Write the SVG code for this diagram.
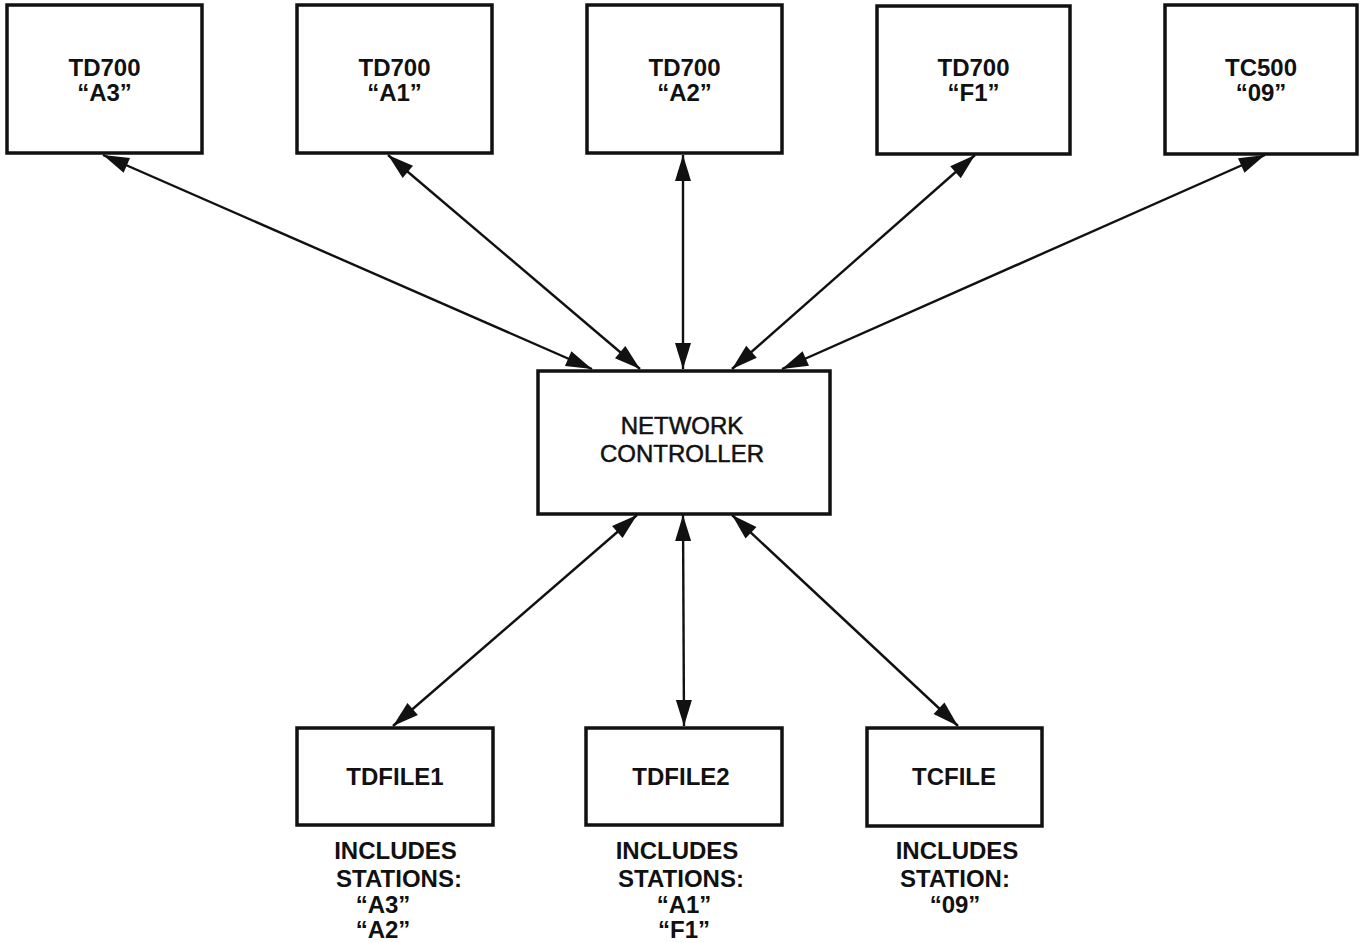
<svg xmlns="http://www.w3.org/2000/svg" width="1361" height="943" viewBox="0 0 1361 943">
  <defs>
    <style>
      .box { fill: #ffffff; stroke: #111111; stroke-width: 3.5; }
      .link { stroke: #111111; stroke-width: 2.4; fill: none; marker-start: url(#head); marker-end: url(#head); }
      .lbl { font-family: "Liberation Sans", Arial, Helvetica, sans-serif; font-size: 24px; font-weight: bold; fill: #111111; text-anchor: middle; }
      .ctl { font-family: "Liberation Sans", Arial, Helvetica, sans-serif; font-size: 24px; fill: #111111; stroke: #111111; stroke-width: 0.5; text-anchor: middle; }
      .note { font-family: "Liberation Sans", Arial, Helvetica, sans-serif; font-size: 24px; font-weight: bold; fill: #111111; text-anchor: middle; }
    </style>
    <marker id="head" viewBox="-27 -9 28 18" refX="0" refY="0" markerWidth="28" markerHeight="18" markerUnits="userSpaceOnUse" orient="auto-start-reverse">
      <path d="M0,0 L-26,-8 L-26,8 Z" fill="#111111"/>
    </marker>
  </defs>
  <rect width="1361" height="943" fill="#ffffff"/>

  <!-- bidirectional links to the controller -->
  <g id="connectors">
    <line class="link" x1="103" y1="155" x2="592" y2="369"/>
    <line class="link" x1="388" y1="155" x2="640" y2="369"/>
    <line class="link" x1="683" y1="155" x2="683" y2="369"/>
    <line class="link" x1="975" y1="155" x2="732" y2="369"/>
    <line class="link" x1="1265" y1="155" x2="782" y2="369"/>
    <line class="link" x1="637" y1="515" x2="393" y2="726"/>
    <line class="link" x1="683" y1="515" x2="684" y2="726"/>
    <line class="link" x1="732" y1="515" x2="958" y2="726"/>
  </g>

  <!-- terminals -->
  <g id="td700-a3">
    <rect class="box" x="7" y="5" width="195" height="148"/>
    <text class="lbl" x="104.5" y="76">TD700</text>
    <text class="lbl" x="104.5" y="101">“A3”</text>
  </g>
  <g id="td700-a1">
    <rect class="box" x="297" y="5" width="195" height="148"/>
    <text class="lbl" x="394.5" y="76">TD700</text>
    <text class="lbl" x="394.5" y="101">“A1”</text>
  </g>
  <g id="td700-a2">
    <rect class="box" x="587" y="5" width="195" height="148"/>
    <text class="lbl" x="684.5" y="76">TD700</text>
    <text class="lbl" x="684.5" y="101">“A2”</text>
  </g>
  <g id="td700-f1">
    <rect class="box" x="877" y="6" width="193" height="148"/>
    <text class="lbl" x="973.5" y="76">TD700</text>
    <text class="lbl" x="973.5" y="101">“F1”</text>
  </g>
  <g id="tc500-09">
    <rect class="box" x="1165" y="5" width="192" height="149"/>
    <text class="lbl" x="1261" y="76">TC500</text>
    <text class="lbl" x="1261" y="101">“09”</text>
  </g>

  <!-- controller -->
  <g id="network-controller">
    <rect class="box" x="538" y="371" width="292" height="143"/>
    <text class="ctl" x="682" y="434">NETWORK</text>
    <text class="ctl" x="682" y="462">CONTROLLER</text>
  </g>

  <!-- files -->
  <g id="tdfile1">
    <rect class="box" x="297" y="728" width="196" height="97"/>
    <text class="lbl" x="395" y="785">TDFILE1</text>
    <text class="note" x="395.5" y="859">INCLUDES</text>
    <text class="note" x="399" y="887">STATIONS:</text>
    <text class="note" x="383" y="913">“A3”</text>
    <text class="note" x="383" y="938">“A2”</text>
  </g>
  <g id="tdfile2">
    <rect class="box" x="586" y="728" width="196" height="97"/>
    <text class="lbl" x="681" y="785">TDFILE2</text>
    <text class="note" x="677" y="859">INCLUDES</text>
    <text class="note" x="681" y="887">STATIONS:</text>
    <text class="note" x="684" y="913">“A1”</text>
    <text class="note" x="684" y="938">“F1”</text>
  </g>
  <g id="tcfile">
    <rect class="box" x="867" y="728" width="175" height="98"/>
    <text class="lbl" x="954" y="785">TCFILE</text>
    <text class="note" x="957" y="859">INCLUDES</text>
    <text class="note" x="955" y="887">STATION:</text>
    <text class="note" x="955" y="913">“09”</text>
  </g>
</svg>
